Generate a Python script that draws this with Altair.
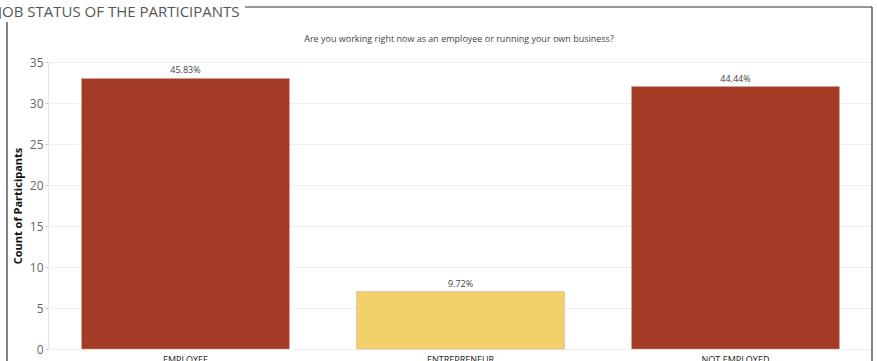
import altair as alt
import pandas as pd

categories = ["EMPLOYEE", "ENTREPRENEUR", "NOT EMPLOYED"]
counts = [33, 7, 32]
pct_labels = ["45.83%", "9.72%", "44.44%"]
bar_colors = ["#A33B26", "#F2D16B", "#A33B26"]
y_ticks = [0, 5, 10, 15, 20, 25, 30, 35]

title_text = "JOB STATUS OF THE PARTICIPANTS"
subtitle_text = "Are you working right now as an employee or running your own business?"
y_title = "Count of Participants"

df = pd.DataFrame({"category": categories, "count": counts, "pct": pct_labels})

FONT = "Open Sans"

x_enc = alt.X(
    "category:N",
    sort=categories,
    title=None,
    scale=alt.Scale(paddingInner=0.244, paddingOuter=0.122),
    axis=alt.Axis(labelAngle=0, ticks=False, domain=False, labelFontSize=9,
                  labelColor="#222", labelFont=FONT, labelPadding=6, grid=False),
)
y_enc = alt.Y(
    "count:Q",
    title=y_title,
    scale=alt.Scale(domain=[0, 35], nice=False),
    axis=alt.Axis(values=y_ticks, tickSize=3, tickColor="#ccc", domainColor="#e6e6e6",
                  labelFontSize=12, labelColor="#666", labelFont=FONT, labelPadding=2,
                  gridColor="#f0f0f0", titleFontSize=11, titleFont=FONT,
                  titleFontWeight="bold", titleColor="#111", titlePadding=6),
)

base = alt.Chart(df).encode(x=x_enc)

bars = base.mark_bar(stroke="#d9a090", strokeWidth=0.5).encode(
    y=y_enc,
    color=alt.Color("category:N", scale=alt.Scale(domain=categories, range=bar_colors), legend=None),
)

labels = base.mark_text(baseline="bottom", dy=-3, fontSize=9, color="#444", font=FONT).encode(
    y="count:Q", text="pct:N"
)

subtitle = alt.Chart(pd.DataFrame({"t": [subtitle_text]})).mark_text(
    fontSize=9, color="#444", font=FONT, baseline="middle"
).encode(text="t:N", x=alt.value(411), y=alt.value(-23))

frame_src = alt.Chart(pd.DataFrame({"a": [0]}))
border_top = frame_src.mark_rule(color="#333", strokeWidth=1.2).encode(
    x=alt.value(197), x2=alt.value(824), y=alt.value(-55))
border_left = frame_src.mark_rule(color="#333", strokeWidth=1.2).encode(
    x=alt.value(-41), y=alt.value(-40), y2=alt.value(330))
border_right = frame_src.mark_rule(color="#333", strokeWidth=1.2).encode(
    x=alt.value(824), y=alt.value(-55), y2=alt.value(330))

chart = alt.layer(border_top, border_left, border_right, bars, labels, subtitle).properties(
    width=825,
    height=287,
    padding={"left": 48, "top": 62, "right": 4, "bottom": 12},
    autosize=alt.AutoSizeParams(type="none"),
    title=alt.TitleParams(title_text, anchor="start", frame="group", dx=-50, dy=14, fontSize=15,
                          color="#555", font=FONT, fontWeight="normal", offset=0),
).configure_view(stroke=None)

chart.save("out.html", embed_options={"renderer": "svg", "actions": False})
